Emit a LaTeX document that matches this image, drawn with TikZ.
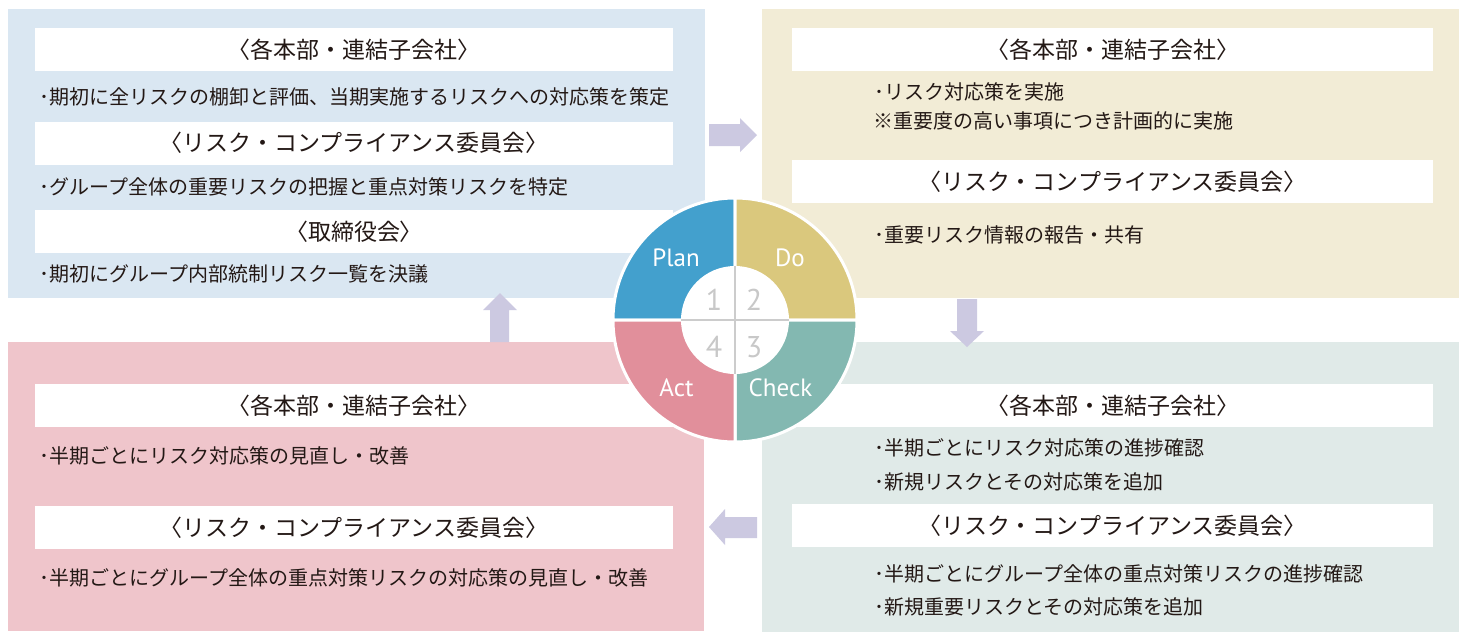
\documentclass[tikz,border=0pt]{standalone}
\usepackage{fontspec}
\setmainfont{Noto Sans CJK JP}
\newfontfamily\pdcafont{PT Sans}
\definecolor{pblue}{HTML}{DAE7F2}
\definecolor{pyel}{HTML}{F2ECD6}
\definecolor{ppink}{HTML}{EFC5CB}
\definecolor{pgray}{HTML}{E0EAE8}
\definecolor{arrc}{HTML}{CCC9E1}
\definecolor{cplan}{HTML}{43A0CD}
\definecolor{cdo}{HTML}{DAC87D}
\definecolor{ccheck}{HTML}{83B8B1}
\definecolor{cact}{HTML}{E18F9B}
\definecolor{ink}{HTML}{231815}
\definecolor{numc}{HTML}{C8C8C8}
\definecolor{crossc}{HTML}{CCCCCC}
\begin{document}
\begin{tikzpicture}[x=0.5pt,y=-0.5pt,
  bar/.style={fill=white, inner sep=0pt, minimum height=21.5pt, text=ink,
    font=\fontsize{11.5pt}{13pt}\selectfont},
  lbar/.style={bar, minimum width=319pt},
  rbar/.style={bar, minimum width=320.5pt},
  txt/.style={anchor=west, inner sep=0pt, text=ink, font=\fontsize{10pt}{12pt}\selectfont},
  arr/.style={fill=arrc},
  sector/.style={draw=white, line width=1.5pt},
  plbl/.style={text=white, inner sep=0pt, font=\pdcafont\fontsize{12.5pt}{14pt}\selectfont},
  num/.style={text=numc, inner sep=0pt, font=\pdcafont\fontsize{15pt}{17pt}\selectfont}]
\useasboundingbox (0,0) rectangle (1464,639);
\fill[white] (0,0) rectangle (1464,639);
% panels
\fill[pblue] (8,9) rectangle (705,298);
\fill[pyel] (762,9) rectangle (1459,298);
\fill[ppink] (8,342) rectangle (704,631);
\fill[pgray] (762,342) rectangle (1459,632);
% top-left (Plan)
\node[lbar] (tl1) at (354,49.5) {〈各本部・連結子会社〉};
\node[txt] (tl1t) at (39,97) {･期初に全リスクの棚卸と評価、当期実施するリスクへの対応策を策定};
\node[lbar] (tl2) at (354,143) {〈リスク・コンプライアンス委員会〉};
\node[txt] (tl2t) at (39,187) {･グループ全体の重要リスクの把握と重点対策リスクを特定};
\node[lbar] (tl3) at (354,231.5) {〈取締役会〉};
\node[txt] (tl3t) at (39,274) {･期初にグループ内部統制リスク一覧を決議};
% top-right (Do)
\node[rbar] (tr1) at (1112.5,49.5) {〈各本部・連結子会社〉};
\node[txt] (tr1a) at (874,92) {･リスク対応策を実施};
\node[txt] (tr1b) at (873,121) {※重要度の高い事項につき計画的に実施};
\node[rbar] (tr2) at (1112.5,181.5) {〈リスク・コンプライアンス委員会〉};
\node[txt] (tr2a) at (874,235) {･重要リスク情報の報告・共有};
% bottom-left (Act)
\node[lbar] (bl1) at (354,405.5) {〈各本部・連結子会社〉};
\node[txt] (bl1a) at (39,456) {･半期ごとにリスク対応策の見直し・改善};
\node[lbar] (bl2) at (354,527.5) {〈リスク・コンプライアンス委員会〉};
\node[txt] (bl2a) at (39,578) {･半期ごとにグループ全体の重点対策リスクの対応策の見直し・改善};
% bottom-right (Check)
\node[rbar] (br1) at (1112.5,405.5) {〈各本部・連結子会社〉};
\node[txt] (br1a) at (874,448) {･半期ごとにリスク対応策の進捗確認};
\node[txt] (br1b) at (874,482) {･新規リスクとその対応策を追加};
\node[rbar] (br2) at (1112.5,525.5) {〈リスク・コンプライアンス委員会〉};
\node[txt] (br2a) at (874,574) {･半期ごとにグループ全体の重点対策リスクの進捗確認};
\node[txt] (br2b) at (874,607) {･新規重要リスクとその対応策を追加};
% block arrows
\fill[arr] (709,124) -- (740,124) -- (740,118) -- (757,135) -- (740,152) -- (740,146) -- (709,146) -- cycle;
\fill[arr] (957,299) -- (977,299) -- (977,331) -- (984,331) -- (967,347) -- (950,331) -- (957,331) -- cycle;
\fill[arr] (757,517) -- (725,517) -- (725,509) -- (709,527) -- (725,545) -- (725,538) -- (757,538) -- cycle;
\fill[arr] (490,342) -- (509,342) -- (509,310) -- (517,310) -- (500,293) -- (483,310) -- (490,310) -- cycle;
% PDCA circle
\begin{scope}[shift={(735,320)}]
  \filldraw[sector, fill=cplan] (0pt,0pt) -- (0pt,61pt) arc[start angle=90, end angle=180, radius=61pt] -- cycle;
  \filldraw[sector, fill=cdo] (0pt,0pt) -- (61pt,0pt) arc[start angle=0, end angle=90, radius=61pt] -- cycle;
  \filldraw[sector, fill=ccheck] (0pt,0pt) -- (0pt,-61pt) arc[start angle=270, end angle=360, radius=61pt] -- cycle;
  \filldraw[sector, fill=cact] (0pt,0pt) -- (-61pt,0pt) arc[start angle=180, end angle=270, radius=61pt] -- cycle;
  \fill[white] (0pt,0pt) circle[radius=27pt];
  \draw[crossc, line width=0.7pt] (0pt,27pt) -- (0pt,-27pt) (-27pt,0pt) -- (27pt,0pt);
\end{scope}
\node[plbl] (plan) at (676,258) {Plan};
\node[plbl] (do) at (790,258) {Do};
\node[plbl] (act) at (676.5,388) {Act};
\node[plbl] (check) at (780.5,388) {Check};
\node[num] (n1) at (714,300) {1};
\node[num] (n2) at (754,300) {2};
\node[num] (n3) at (754,347) {3};
\node[num] (n4) at (714,347) {4};
\end{tikzpicture}
\end{document}
